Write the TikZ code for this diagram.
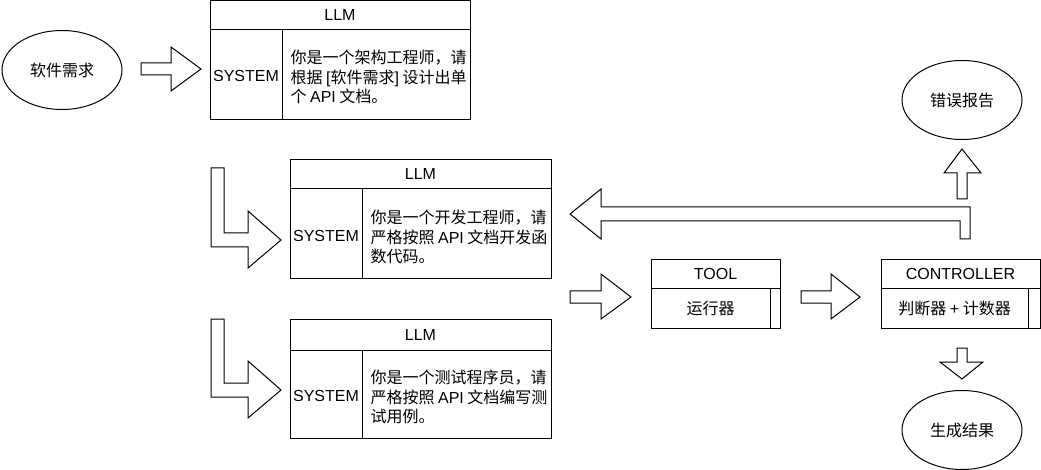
\documentclass[tikz,border=0pt]{standalone}
\usepackage{fontspec}
\setmainfont{Liberation Sans}
\newfontfamily\cjk{Noto Sans CJK SC}
\newcommand\lt[1]{{\rmfamily #1}}
\usetikzlibrary{shapes.geometric}
\begin{document}
\begin{tikzpicture}[x=1pt,y=-1pt,line width=1pt,
  box/.style={draw,inner sep=0pt,anchor=north west},
  oval/.style={ellipse,draw,inner sep=0pt,minimum width=120pt,minimum height=79pt,font=\cjk\fontsize{16}{19}\selectfont},
  lbl/.style={inner sep=0pt,font=\fontsize{16}{19}\selectfont},
  ctext/.style={inner sep=0pt,anchor=west,align=left,font=\cjk\fontsize{16}{19.5}\selectfont},
  blk/.style={draw,line join=miter,fill=white}]
\useasboundingbox (0,0) rectangle (1041,470);

% ellipses
\node[oval] (req) at (62,70) {软件需求};
\node[oval] (err) at (962,100) {错误报告};
\node[oval] (res) at (962,430) {生成结果};

% LLM box 1
\node[box,minimum width=260pt,minimum height=118.5pt] (llm1) at (210,0.5) {};
\draw (210,30) -- (470,30);
\draw (282,30) -- (282,119);
\node[lbl] (llm1h) at (340,15) {LLM};
\node[lbl] (llm1s) at (246,76) {SYSTEM};
\node[ctext] (llm1t) at (290,77) {你是一个架构工程师，请\\根据 \lt{[}软件需求\lt{]} 设计出单\\个 \lt{API} 文档。};

% LLM box 2
\node[box,minimum width=261pt,minimum height=119pt] (llm2) at (290,159) {};
\draw (290,189) -- (551,189);
\draw (362,189) -- (362,278);
\node[lbl] (llm2h) at (420.5,174) {LLM};
\node[lbl] (llm2s) at (326,236) {SYSTEM};
\node[ctext] (llm2t) at (370,237) {你是一个开发工程师，请\\严格按照 \lt{API} 文档开发函\\数代码。};

% LLM box 3
\node[box,minimum width=261pt,minimum height=119pt] (llm3) at (290,319) {};
\draw (290,350) -- (551,350);
\draw (362,350) -- (362,438);
\node[lbl] (llm3h) at (420.5,334.5) {LLM};
\node[lbl] (llm3s) at (326,396) {SYSTEM};
\node[ctext] (llm3t) at (370,397) {你是一个测试程序员，请\\严格按照 \lt{API} 文档编写测\\试用例。};

% TOOL
\node[box,minimum width=129pt,minimum height=69pt] (tool) at (651,259) {};
\draw (651,289) -- (780,289);
\draw (770,289) -- (770,328);
\node[lbl] (toolh) at (715.5,274) {TOOL};
\node[lbl,font=\cjk\fontsize{16}{19}\selectfont] (toolt) at (710.5,308.5) {运行器};

% CONTROLLER
\node[box,minimum width=159pt,minimum height=69pt] (ctrl) at (881,259) {};
\draw (881,289) -- (1040,289);
\draw (1028,289) -- (1028,328);
\node[lbl] (ctrlh) at (960.5,274) {CONTROLLER};
\node[lbl,font=\cjk\fontsize{16}{19}\selectfont] (ctrlt) at (954.5,308.5) {判断器 \lt{+} 计数器};

% block arrows
\draw[blk] (141,63) -- (171,63) -- (171,47) -- (201,69) -- (171,91) -- (171,75) -- (141,75) -- cycle;
\draw[blk] (211,168) -- (224,168) -- (224,233) -- (248,233) -- (248,211) -- (281,240) -- (248,268) -- (248,247) -- (211,247) -- cycle;
\draw[blk] (211,319) -- (224,319) -- (224,383) -- (248,383) -- (248,361) -- (281,390) -- (248,418) -- (248,397) -- (211,397) -- cycle;
\draw[blk] (570,291) -- (601,291) -- (601,274) -- (631,297) -- (601,319) -- (601,303) -- (570,303) -- cycle;
\draw[blk] (801,291) -- (831,291) -- (831,274) -- (860,297) -- (831,319) -- (831,303) -- (801,303) -- cycle;
\draw[blk] (570,214) -- (601,189) -- (601,207) -- (970,207) -- (970,239) -- (960,239) -- (960,221) -- (601,221) -- (601,239) -- cycle;
\draw[blk] (957,199) -- (957,173) -- (944,173) -- (962,149) -- (981,173) -- (967,173) -- (967,199) -- cycle;
\draw[blk] (957,348) -- (967,348) -- (967,362) -- (983,362) -- (962,379) -- (940,362) -- (957,362) -- cycle;
\end{tikzpicture}
\end{document}
